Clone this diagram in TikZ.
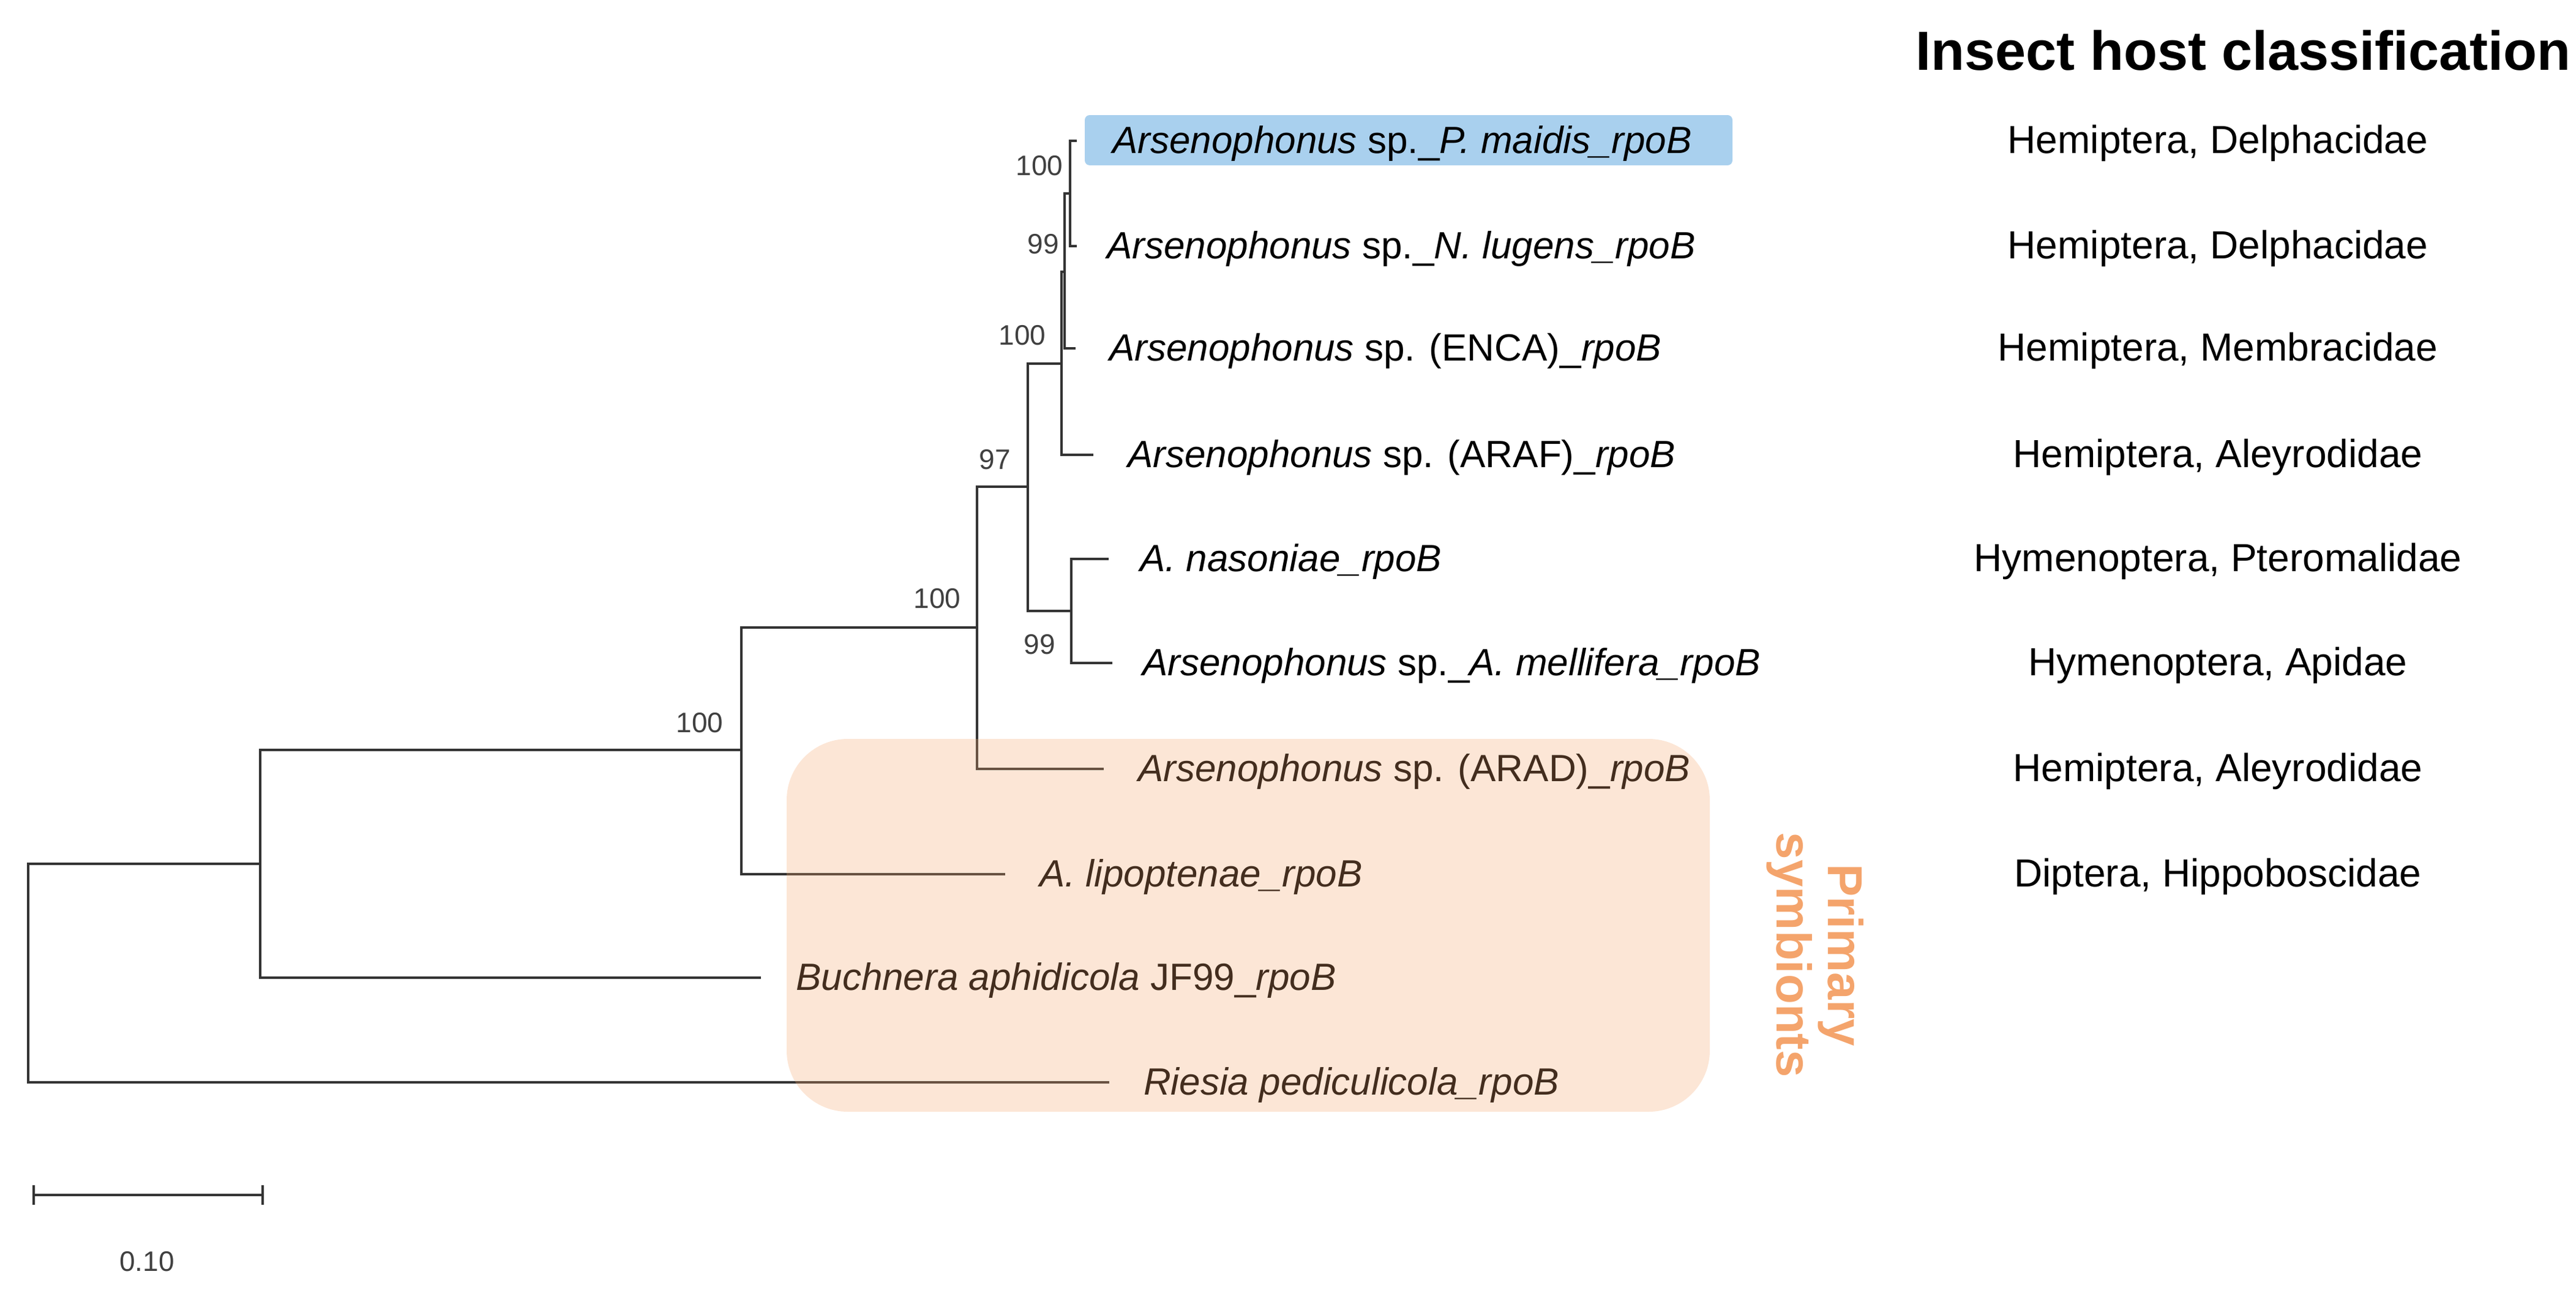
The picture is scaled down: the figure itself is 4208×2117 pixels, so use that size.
\documentclass[tikz,border=0pt]{standalone}
\usepackage{fontspec}
\setmainfont{Liberation Sans}
\begin{document}
\begin{tikzpicture}[x=1pt,y=-1pt,
  br/.style={line width=3.5pt,color=black!80},
  lab/.style={font=\fontsize{62}{70}\selectfont\itshape,anchor=west,inner sep=0pt},
  host/.style={font=\fontsize{64}{72}\selectfont,inner sep=0pt},
  bs/.style={font=\fontsize{46}{50}\selectfont,text=black!75,inner sep=0pt}]
\useasboundingbox (0,0) rectangle (4208,2117);
\definecolor{pri}{HTML}{F4A46C}
\definecolor{hl}{HTML}{A9D0EE}
% highlight
\fill[hl,rounded corners=8pt] (1772,188) rectangle (2830,270);
% internal nodes
\coordinate (R) at (46,1588);
\coordinate (A) at (425,1411);
\coordinate (B) at (1211,1225);
\coordinate (C) at (1596,1025);
\coordinate (D) at (1679,795);
\coordinate (E) at (1750,998);
\coordinate (F) at (1734,594);
\coordinate (G) at (1739,444);
\coordinate (H) at (1748,316);
% leaf ends
\coordinate (l1) at (1759,230);
\coordinate (l2) at (1759,402);
\coordinate (l3) at (1757,569);
\coordinate (l4) at (1786,743);
\coordinate (l5) at (1811,913);
\coordinate (l6) at (1817,1083);
\coordinate (l7) at (1803,1256);
\coordinate (l8) at (1642,1428);
\coordinate (l9) at (1243,1597);
\coordinate (l10) at (1812,1768);
% branches
\draw[br] (l1) -| (H) |- (l2);
\draw[br] (H) -| (G) |- (l3);
\draw[br] (G) -| (F) |- (l4);
\draw[br] (l5) -| (E) |- (l6);
\draw[br] (F) -| (D) |- (E);
\draw[br] (D) -| (C) |- (l7);
\draw[br] (C) -| (B) |- (l8);
\draw[br] (B) -| (A) |- (l9);
\draw[br] (A) -| (R) |- (l10);
% leaf labels
\node[lab] (t1) at (1817,234) {Arsenophonus\/\upshape{} sp.\_\itshape P. maidis\_rpoB};
\node[lab] (t2) at (1808,406) {Arsenophonus\/\upshape{} sp.\_\itshape N. lugens\_rpoB};
\node[lab] (t3) at (1812,573) {Arsenophonus\/\upshape{} sp. (ENCA)\_\itshape rpoB};
\node[lab] (t4) at (1842,747) {Arsenophonus\/\upshape{} sp. (ARAF)\_\itshape rpoB};
\node[lab] (t5) at (1862,917) {A. nasoniae\_rpoB};
\node[lab] (t6) at (1866,1087) {Arsenophonus\/\upshape{} sp.\_\itshape A. mellifera\_rpoB};
\node[lab] (t7) at (1859,1260) {Arsenophonus\/\upshape{} sp. (ARAD)\_\itshape rpoB};
\node[lab] (t8) at (1698,1432) {A. lipoptenae\_rpoB};
\node[lab] (t9) at (1300,1601) {Buchnera aphidicola\/\upshape{} JF99\_\itshape rpoB};
\node[lab] (t10) at (1868,1772) {Riesia pediculicola\_rpoB};
% bootstrap
\node[bs] (b1) at (1698,271) {100};
\node[bs] (b2) at (1704,399) {99};
\node[bs] (b3) at (1670,548) {100};
\node[bs] (b4) at (1625,751) {97};
\node[bs] (b5) at (1698,1053) {99};
\node[bs] (b6) at (1531,978) {100};
\node[bs] (b7) at (1143,1181) {100};
% primary symbionts box
\fill[pri,fill opacity=0.28,rounded corners=100pt] (1285,1207) rectangle (2793,1816);
\node[font=\fontsize{80}{84}\selectfont\bfseries,text=pri,rotate=-90,align=center] (ps) at (2965,1560) {Primary\\symbionts};
% hosts
\node[host] (h1) at (3623,234) {Hemiptera, Delphacidae};
\node[host] (h2) at (3623,406) {Hemiptera, Delphacidae};
\node[host] (h3) at (3623,573) {Hemiptera, Membracidae};
\node[host] (h4) at (3623,747) {Hemiptera, Aleyrodidae};
\node[host] (h5) at (3623,917) {Hymenoptera, Pteromalidae};
\node[host] (h6) at (3623,1087) {Hymenoptera, Apidae};
\node[host] (h7) at (3623,1260) {Hemiptera, Aleyrodidae};
\node[host] (h8) at (3623,1432) {Diptera, Hippoboscidae};
\node[font=\fontsize{90}{96}\selectfont\bfseries,anchor=east,inner sep=0pt] (title) at (4200,82) {Insect host classification};
% scale bar
\coordinate (s1) at (55,1952);
\coordinate (s2) at (429,1952);
\draw[br] (s1) -- (s2);
\draw[br] ([yshift=-16pt]s1) -- ([yshift=16pt]s1);
\draw[br] ([yshift=-16pt]s2) -- ([yshift=16pt]s2);
\node[bs] (sl) at (240,2061) {0.10};
\end{tikzpicture}
\end{document}
